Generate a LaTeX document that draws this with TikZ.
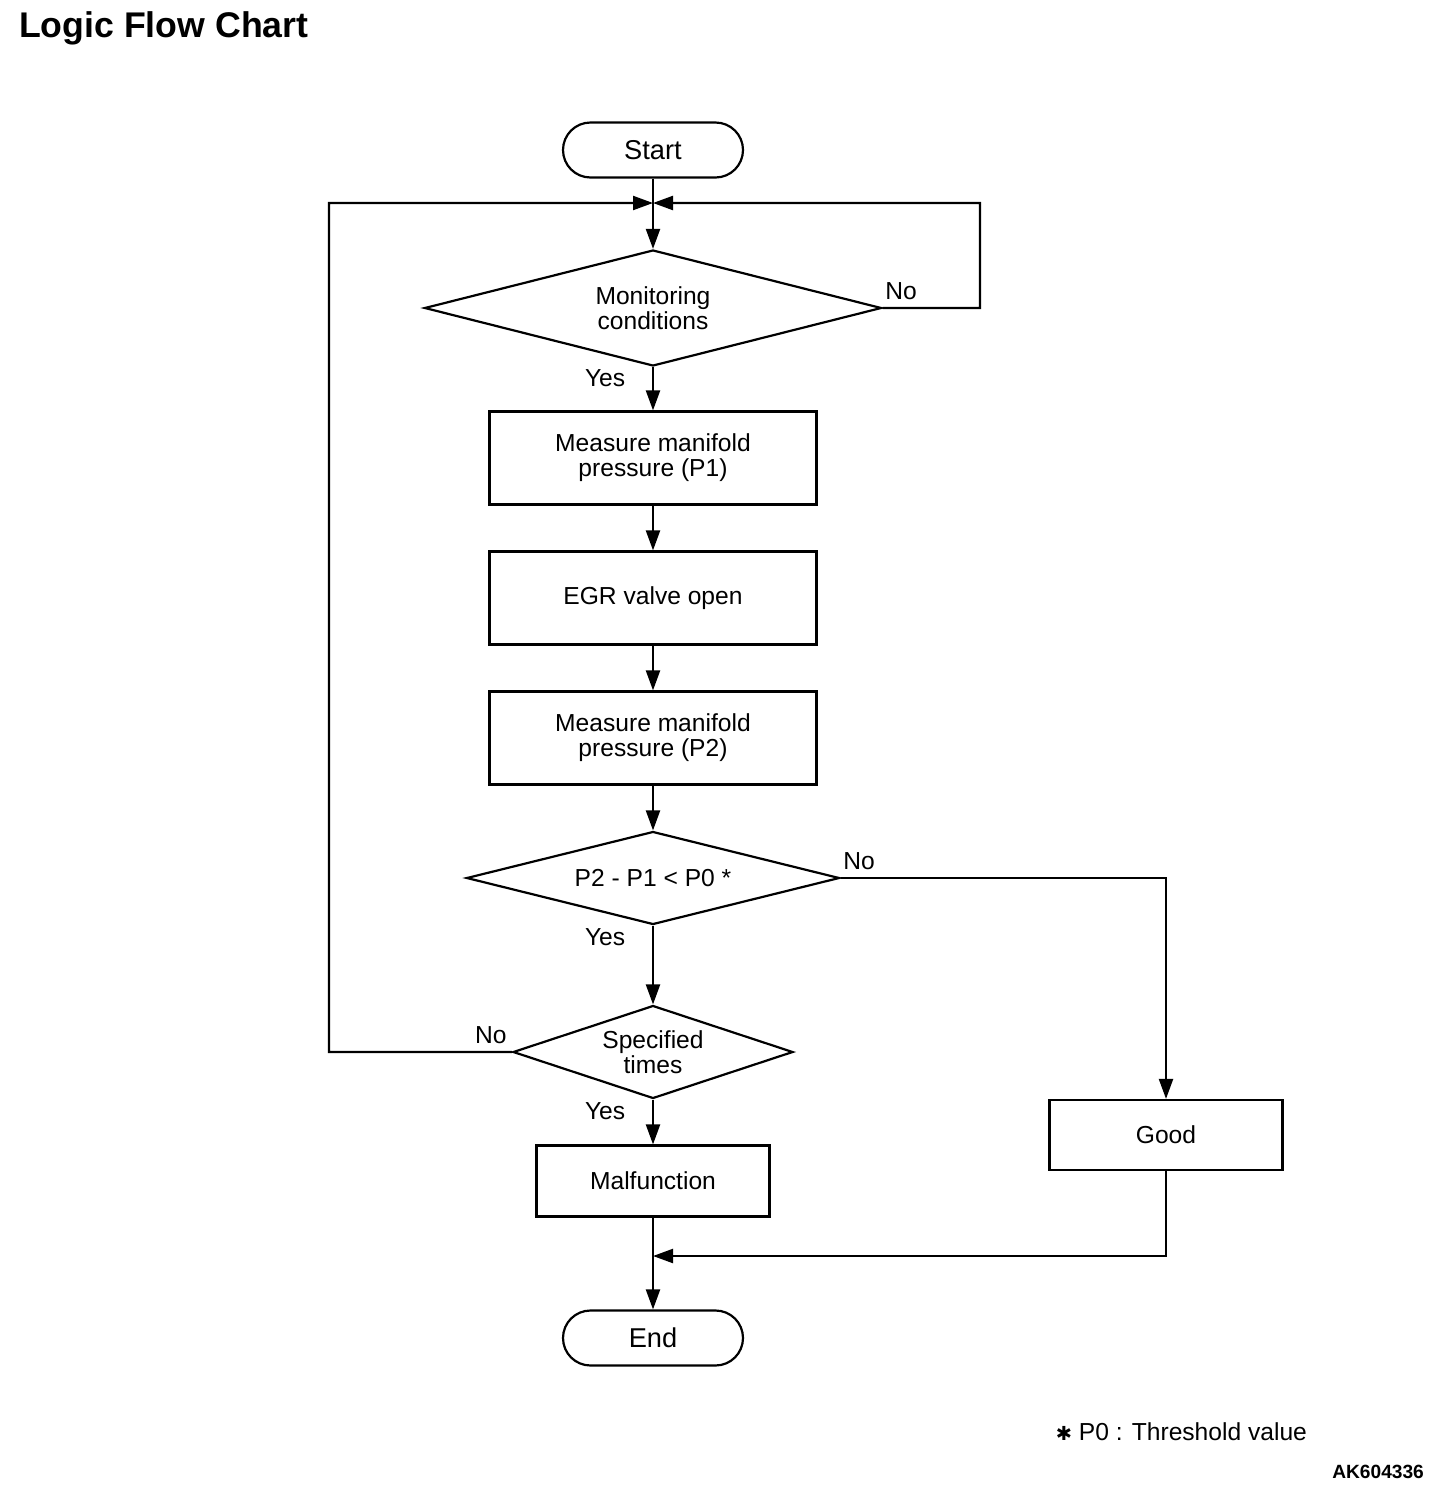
\documentclass[tikz,border=0pt]{standalone}
\usepackage{fontspec}
\setmainfont{Liberation Sans}
\newfontfamily\symfont{DejaVu Sans}
\usepackage{tikz}
\usetikzlibrary{positioning,shapes.geometric,arrows.meta}
\tikzset{node distance=2.8cm, auto,
  >={Triangle[length=0.4cm,width=0.28cm]},
  txt/.style={font=\fontsize{14}{14.2}\selectfont},
  box/.style={draw, rectangle, txt, align=center, minimum width=6.54cm, minimum height=1.86cm},
  cond/.style={draw, diamond, txt, align=center, inner sep=0pt, aspect=4, minimum height=1.86cm},
  term/.style={draw, rectangle, rounded corners=0.55cm, minimum width=3.6cm, minimum height=1.1cm, font=\fontsize{15.5}{16}\selectfont},
  lbl/.style={txt, inner sep=1pt}}

\begin{document}
\begin{tikzpicture}[line width=1.25pt]
              \useasboundingbox (0,0) rectangle (29.12,-29.84);

              \node[anchor=base west, inner sep=0pt, font=\fontsize{20.3}{22}\selectfont\bfseries] (Title) at (0.36,-0.74) {Logic Flow Chart};

              \node (Start) [term] at (13.06,-3.0) {Start};
              \node (Mon) [cond, aspect=3.94, minimum width=9.14cm, minimum height=2.32cm, below of=Start, node distance=3.16cm] {Monitoring\\conditions};
              \node (MeasA) [box, below of=Mon, node distance=3.0cm] {Measure manifold\\pressure (P1)};
              \node (EGR) [box, below of=MeasA] {EGR valve open};
              \node (MeasB) [box, below of=EGR] {Measure manifold\\pressure (P2)};
              \node (Cmp) [cond, minimum width=7.46cm, below of=MeasB] {P2 - P1 {<} P0 *};
              \node (Times) [cond, aspect=3, minimum width=5.6cm, below of=Cmp, node distance=3.48cm] {Specified\\times};
              \node (Malf) [box, minimum width=4.66cm, minimum height=1.42cm, below of=Times, node distance=2.58cm] {Malfunction};
              \node (End) [term, below of=Malf, node distance=3.14cm] {End};
              \node (Good) [box, minimum width=4.66cm, minimum height=1.4cm] at (23.32,-22.7) {Good};

              \coordinate (Join) at (13.06,-4.06);
              \coordinate (Merge) at (13.06,-25.12);

              \draw [->] (Start) to (Mon);
              \draw [->] (Mon.east) -- (19.6,-6.16) |- (Join);
              \draw [->] (Times.west) -- (6.58,-21.04) |- (Join);
              \draw [->] (Mon) to (MeasA);
              \draw [->] (MeasA) to (EGR);
              \draw [->] (EGR) to (MeasB);
              \draw [->] (MeasB) to (Cmp);
              \draw [->] (Cmp.east) -| (Good.north);
              \draw [->] (Cmp) to (Times);
              \draw [->] (Times) to (Malf);
              \draw [->] (Malf) to (End);
              \draw [->] (Good.south) |- (Merge);

              \node[lbl, anchor=south west, yshift=0.1cm] (NoA) at (Mon.east) {No};
              \node[lbl, anchor=north east, xshift=-0.5cm] (YesA) at (Mon.south) {Yes};
              \node[lbl, anchor=south west, yshift=0.1cm] (NoB) at (Cmp.east) {No};
              \node[lbl, anchor=north east, xshift=-0.5cm] (YesB) at (Cmp.south) {Yes};
              \node[lbl, anchor=south east, xshift=-0.05cm, yshift=0.1cm] (NoC) at (Times.west) {No};
              \node[lbl, anchor=north east, xshift=-0.5cm] (YesC) at (Times.south) {Yes};

              \node[txt, anchor=west] (Note) at (20.98,-28.64) {{\symfont\fontsize{11}{12}\selectfont ✱} P0 : Threshold value};
              \node[anchor=base east, inner sep=0pt, font=\fontsize{10.9}{12}\selectfont\bfseries] (Code) at (28.5,-29.56) {AK604336};
            \end{tikzpicture}
\end{document}
